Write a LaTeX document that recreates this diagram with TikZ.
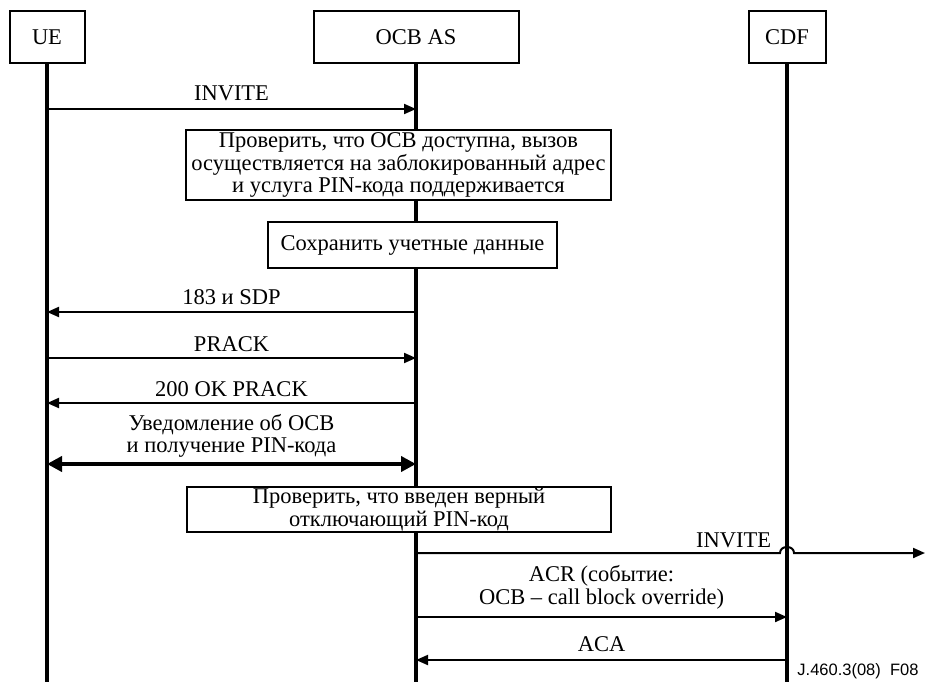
\documentclass[tikz,border=0pt]{standalone}
\usepackage{fontspec}
\setmainfont{Liberation Serif}
\newfontfamily\figsans{Liberation Sans}
\usetikzlibrary{arrows.meta}

\begin{document}
\begin{tikzpicture}[
  x=1pt, y=-1pt,
  font=\fontsize{22.5}{22.5}\selectfont,
  ent/.style={draw, line width=2pt, fill=white, minimum height=52pt, inner sep=0pt},
  life/.style={line width=3.2pt},
  act/.style={draw, line width=2pt, fill=white, align=center, inner sep=1pt},
  msg/.style={line width=2pt, -{Triangle[length=12pt,width=10pt]}},
  bigmsg/.style={line width=4.5pt, {Triangle[length=15pt,width=15pt]}-{Triangle[length=15pt,width=15pt]}},
  lbl/.style={align=center, inner sep=0pt, text depth=0pt},
]
\useasboundingbox (0,0) rectangle (925,682);

% Entities and lifelines
\node[ent, minimum width=75pt]  (ue)  at (47,37)  {UE};
\node[ent, minimum width=205pt] (ocb) at (416,37) {OCB AS};
\node[ent, minimum width=77pt]  (cdf) at (787,37) {CDF};
\coordinate (ueend)  at (47,682);
\coordinate (ocbend) at (416,682);
\coordinate (cdfend) at (787,682);
\draw[life] (ue) -- (ueend);
\draw[life] (ocb) -- (ocbend);
\draw[life] (cdf) -- (cdfend);

% Actions in OCB AS
\node[act, minimum width=425pt, minimum height=70pt] (chk) at (398.5,165)
  {Проверить, что OCB доступна, вызов\\осуществляется на заблокированный адрес\\и услуга PIN-кода поддерживается};
\node[act, minimum width=289pt, minimum height=46pt] (save) at (412.5,245) {Сохранить учетные данные};
\node[act, minimum width=424pt, minimum height=45pt] (pin) at (399,509.5)
  {Проверить, что введен верный\\отключающий PIN-код};

% Messages UE <-> OCB AS
\coordinate (ue1) at (47,109);  \coordinate (ocb1) at (416,109);
\coordinate (ue2) at (47,312);  \coordinate (ocb2) at (416,312);
\coordinate (ue3) at (47,358);  \coordinate (ocb3) at (416,358);
\coordinate (ue4) at (47,403);  \coordinate (ocb4) at (416,403);
\coordinate (ue5) at (47,464);  \coordinate (ocb5) at (416,464);
\draw[msg] (ue1) -- node[lbl, above=7pt]{INVITE} (ocb1);
\draw[msg] (ocb2) -- node[lbl, above=7pt]{183 и SDP} (ue2);
\draw[msg] (ue3) -- node[lbl, above=6pt]{PRACK} (ocb3);
\draw[msg] (ocb4) -- node[lbl, above=6pt]{200 OK PRACK} (ue4);
\draw[bigmsg] (ue5) -- node[lbl, above=9pt]{Уведомление об OCB\\и получение PIN-кода} (ocb5);

% Messages OCB AS -> onward / CDF
\coordinate (ocb6) at (416,553);
\coordinate (hopl) at (780,553);
\coordinate (hopr) at (794,553);
\coordinate (out)  at (925,553);
\draw[msg] (ocb6) -- (hopl) node[lbl, anchor=south east, xshift=-8pt, yshift=5pt]{INVITE}
  .. controls (780,545) and (794,545) .. (hopr) -- (out);
\coordinate (ocb7) at (416,617); \coordinate (cdf7) at (787,617);
\coordinate (ocb8) at (416,660); \coordinate (cdf8) at (787,660);
\draw[msg] (ocb7) -- node[lbl, above=12pt]{ACR (событие:\\OCB – call block override)} (cdf7);
\draw[msg] (cdf8) -- node[lbl, above=8pt]{ACA} (ocb8);

\node[font=\figsans\fontsize{16.5}{16.5}\selectfont, anchor=base east] (fig) at (922,675) {J.460.3(08)\ \ F08};
\end{tikzpicture}
\end{document}
